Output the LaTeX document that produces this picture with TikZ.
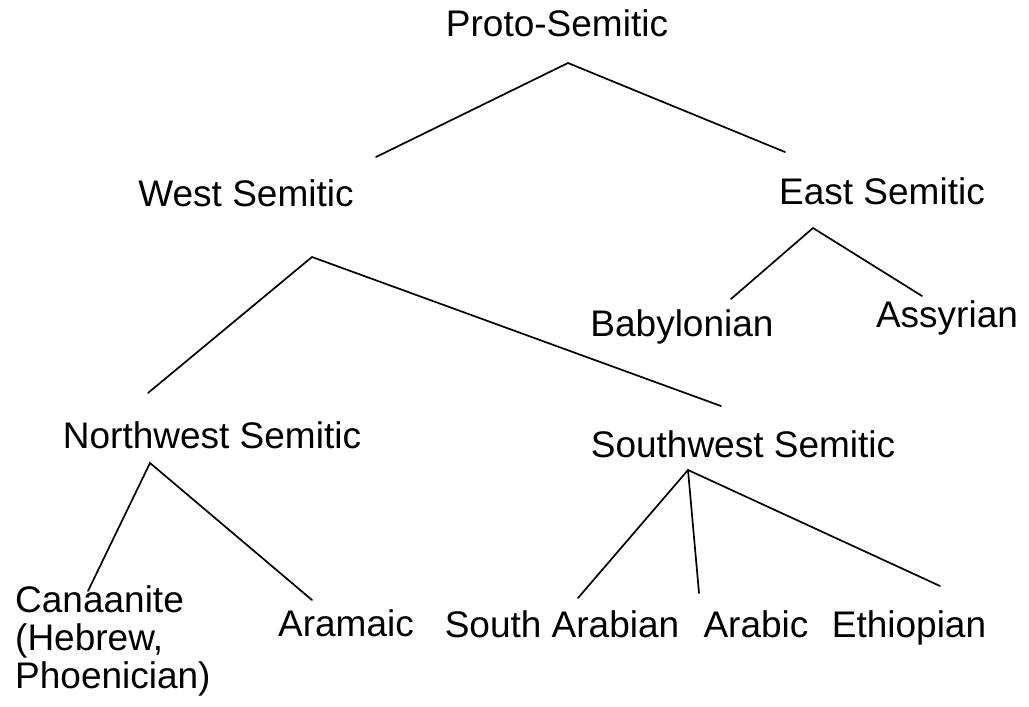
\documentclass[tikz,border=0pt]{standalone}
\usepackage{fontspec}
\setmainfont{Liberation Sans}
\begin{document}
\begin{tikzpicture}[x=1pt,y=-1pt,
  lbl/.style={inner sep=0pt, anchor=base, font=\fontsize{37}{38}\selectfont},
  edge/.style={line width=1.7pt, line cap=round}]
\useasboundingbox (0,0) rectangle (1029,707);
% labels
\node[lbl] (proto) at (557,36) {Proto-Semitic};
\node[lbl] (west) at (246,206) {West Semitic};
\node[lbl] (east) at (882,204) {East Semitic};
\node[lbl] (baby) at (682,336) {Babylonian};
\node[lbl] (assy) at (947,327) {Assyrian};
\node[lbl] (nw) at (212,448) {Northwest Semitic};
\node[lbl] (sw) at (743,457) {Southwest Semitic};
\node[lbl, anchor=base west] (can) at (15,612) {\begin{tabular}[t]{@{}l@{}}Canaanite\\(Hebrew,\\Phoenician)\end{tabular}};
\node[lbl] (aram) at (346,636) {Aramaic};
\node[lbl] (sarab) at (562,637) {South Arabian};
\node[lbl] (arab) at (756,637) {Arabic};
\node[lbl] (eth) at (909,637) {Ethiopian};
% branch points
\coordinate (pP) at (568,63);
\coordinate (pPl) at (376,157);
\coordinate (pPr) at (785,152);
\coordinate (pE) at (813,228);
\coordinate (pEl) at (731,299);
\coordinate (pEr) at (922,296);
\coordinate (pW) at (312,257);
\coordinate (pWl) at (148,393);
\coordinate (pWr) at (721,406);
\coordinate (pN) at (150,463);
\coordinate (pNl) at (88,591);
\coordinate (pNr) at (312,600);
\coordinate (pS) at (688,470);
\coordinate (pSl) at (578,598);
\coordinate (pSm) at (699,593);
\coordinate (pSr) at (940,586);
% connectors
\draw[edge] (pPl) -- (pP) -- (pPr);
\draw[edge] (pEl) -- (pE) -- (pEr);
\draw[edge] (pWl) -- (pW) -- (pWr);
\draw[edge] (pNl) -- (pN) -- (pNr);
\draw[edge] (pSl) -- (pS) -- (pSr);
\draw[edge] (pS) -- (pSm);
\end{tikzpicture}
\end{document}
